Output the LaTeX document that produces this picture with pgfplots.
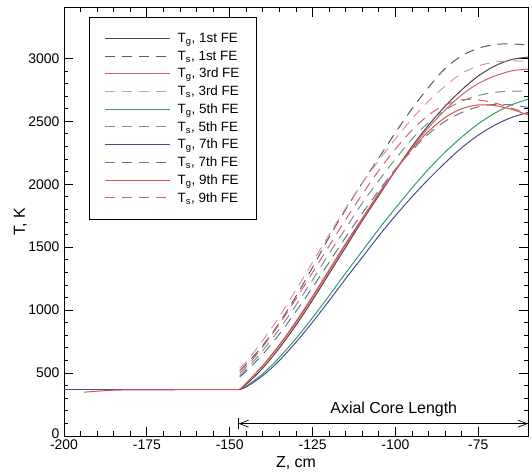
\documentclass[border=0pt]{standalone}
\usepackage{fontspec}
\setmainfont{Liberation Sans}
\usepackage{pgfplots}
\usepackage{pgfplotstable}
\pgfplotsset{compat=1.18}
\usetikzlibrary{arrows.meta}

\definecolor{c1}{RGB}{70,70,70}
\definecolor{c1d}{RGB}{90,90,100}
\definecolor{c3}{RGB}{205,95,125}
\definecolor{c3d}{RGB}{225,145,160}
\definecolor{c5}{RGB}{60,150,120}
\definecolor{c5d}{RGB}{110,150,140}
\definecolor{c7}{RGB}{75,75,145}
\definecolor{c7d}{RGB}{105,115,150}
\definecolor{c9}{RGB}{215,85,75}
\definecolor{c9d}{RGB}{215,95,110}

\pgfplotstableread{
z     g1    s1    g3    s3    g5    s5    g7    s7    g9    s9
-147  370   520   370   540   370   480   370   470   370   500
-145  410   570   420   590   395   530   390   515   420   550
-140  540   720   560   760   495   680   480   650   560   710
-135  700   900   720   950   625   850   600   810   725   890
-130  880   1110  900   1160  775   1040  745   990   910   1090
-125  1080  1340  1100  1380  940   1240  905   1180  1110  1300
-120  1290  1580  1310  1600  1115  1450  1075  1380  1320  1510
-115  1500  1800  1520  1810  1295  1650  1250  1580  1530  1720
-110  1710  2010  1720  2010  1470  1850  1420  1770  1730  1920
-105  1910  2210  1920  2190  1645  2030  1590  1950  1930  2110
-100  2110  2410  2110  2360  1810  2200  1750  2120  2110  2280
-95   2300  2600  2290  2520  1970  2360  1900  2270  2280  2430
-90   2470  2770  2450  2660  2120  2490  2040  2400  2420  2550
-85   2620  2920  2590  2780  2255  2590  2170  2500  2530  2630
-80   2750  3020  2710  2880  2375  2660  2290  2570  2600  2670
-75   2860  3080  2800  2940  2480  2705  2390  2615  2630  2670
-70   2940  3110  2860  2970  2565  2730  2470  2635  2625  2645
-65   2990  3115  2900  2980  2630  2740  2530  2630  2595  2605
-60   3010  3105  2915  2975  2675  2740  2570  2610  2550  2560
}\core

\pgfplotstableread{
z     t
-200  368
-147  368
}\flat

\pgfplotstableread{
z     t
-194  348
-190  356
-185  364
-180  367
-147  368
}\flatnine

\begin{document}
\begin{tikzpicture}
\begin{axis}[
  scale only axis,
  width=464bp, height=428bp,
  xmin=-200, xmax=-60, ymin=0, ymax=3400,
  xtick={-200,-175,-150,-125,-100,-75},
  ytick={0,500,1000,1500,2000,2500,3000},
  yticklabels={\raisebox{5bp}{0},500,1000,1500,2000,2500,3000},
  minor x tick num=4,
  minor y tick num=4,
  tick align=inside,
  xtick pos=both, ytick pos=both,
  major tick length=9bp,
  minor tick length=4.5bp,
  every tick/.style={black, line width=0.8bp},
  axis line style={line width=1bp},
  /pgf/number format/assume math mode=true,
  /pgf/number format/1000 sep={},
  ticklabel style={font=\fontsize{14}{16}\selectfont},
  yticklabel style={xshift=-1bp},
  xticklabel style={yshift=0bp},
  xlabel={Z, cm},
  ylabel={T, K},
  label style={font=\fontsize{16}{18}\selectfont},
  xlabel style={at={(axis description cs:0.5,-0.064)}, anchor=center},
  ylabel style={at={(axis description cs:-0.094,0.5)}, anchor=center},
  legend style={at={(axis description cs:0.054,0.979)}, anchor=north west,
    font=\fontsize{13.5}{15}\selectfont, draw=black, line width=0.8bp,
    inner xsep=15bp, inner ysep=14bp, row sep=2.1bp,
    nodes={inner sep=2.2bp}},
  legend cell align=left,
  legend image code/.code={\draw[#1, line width=1bp] (0bp,0bp) -- (65bp,0bp);},
  every axis plot/.append style={line width=1bp},
]
\addplot[c1, forget plot] table[x=z, y=t] {\flat};
\addplot[c3, forget plot] table[x=z, y=t] {\flat};
\addplot[c5, forget plot] table[x=z, y=t] {\flat};
\addplot[c7, forget plot] table[x=z, y=t] {\flat};
\addplot[c9, forget plot] table[x=z, y=t] {\flatnine};

\addplot[c1, smooth] table[x=z, y=g1] {\core};
\addlegendentry{\hspace{5bp}T\textsubscript{g}, 1st FE}
\addplot[c1d, smooth, dash pattern=on 10bp off 7bp] table[x=z, y=s1] {\core};
\addlegendentry{\hspace{5bp}T\textsubscript{s}, 1st FE}
\addplot[c3, smooth] table[x=z, y=g3] {\core};
\addlegendentry{\hspace{5bp}T\textsubscript{g}, 3rd FE}
\addplot[c3d, smooth, dash pattern=on 10bp off 7bp] table[x=z, y=s3] {\core};
\addlegendentry{\hspace{5bp}T\textsubscript{s}, 3rd FE}
\addplot[c5, smooth] table[x=z, y=g5] {\core};
\addlegendentry{\hspace{5bp}T\textsubscript{g}, 5th FE}
\addplot[c5d, smooth, dash pattern=on 10bp off 7bp] table[x=z, y=s5] {\core};
\addlegendentry{\hspace{5bp}T\textsubscript{s}, 5th FE}
\addplot[c7, smooth] table[x=z, y=g7] {\core};
\addlegendentry{\hspace{5bp}T\textsubscript{g}, 7th FE}
\addplot[c7d, smooth, dash pattern=on 10bp off 7bp] table[x=z, y=s7] {\core};
\addlegendentry{\hspace{5bp}T\textsubscript{s}, 7th FE}
\addplot[c9, smooth] table[x=z, y=g9] {\core};
\addlegendentry{\hspace{5bp}T\textsubscript{g}, 9th FE}
\addplot[c9d, smooth, dash pattern=on 10bp off 7bp] table[x=z, y=s9] {\core};
\addlegendentry{\hspace{5bp}T\textsubscript{s}, 9th FE}

\draw[line width=0.7bp, {Straight Barb[length=9bp,width=7bp]}-{Straight Barb[length=9bp,width=7bp]}]
  (axis cs:-147.3,98) -- (axis cs:-60,98);
\draw[line width=0.8bp] (axis cs:-147.3,55) -- (axis cs:-147.3,145);
\node[font=\fontsize{16}{18}\selectfont] at (axis cs:-100.5,215) {Axial Core Length};

\coordinate (BL) at (rel axis cs:0,0);
\coordinate (TR) at (rel axis cs:1,1);
\end{axis}
\pgfresetboundingbox
\path ([shift={(-64bp,-40bp)}]BL) rectangle ([shift={(4bp,8bp)}]TR);
\end{tikzpicture}
\end{document}
